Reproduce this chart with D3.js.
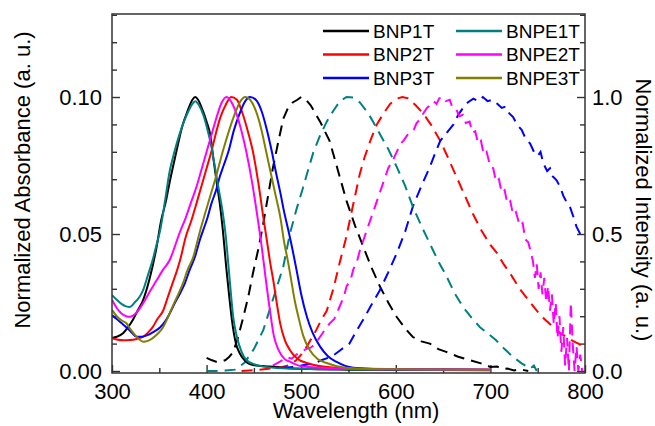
<!DOCTYPE html>
<html>
<head>
<meta charset="utf-8">
<script src="https://cdnjs.cloudflare.com/ajax/libs/d3/7.8.5/d3.min.js"></script>
<style>
  body { margin: 0; background: #fff; }
  svg text { font-family: "Liberation Sans", Arial, sans-serif; fill: #000; }
  .axis text { font-size: 22px; }
  .axis line { stroke: #333; stroke-width: 1.4; }
  .legend text { font-size: 19px; }
</style>
</head>
<body>
<svg id="chart" width="655" height="426"></svg>
<script>
// tick values and labels
var xTicks = [300, 400, 500, 600, 700, 800];
var xMinor = [350, 450, 550, 650, 750];
var absTicks = [0, 0.05, 0.10];
var absLabels = ["0.00", "0.05", "0.10"];
var absMinor = [0.01, 0.02, 0.03, 0.04, 0.06, 0.07, 0.08, 0.09, 0.11, 0.12, 0.13];
var emTicks = [0, 0.5, 1.0];
var emLabels = ["0.0", "0.5", "1.0"];
var emMinor = [0.1, 0.2, 0.3, 0.4, 0.6, 0.7, 0.8, 0.9, 1.1, 1.2, 1.3];

var names = ["BNP1T", "BNP2T", "BNP3T", "BNPE1T", "BNPE2T", "BNPE3T"];
var colors = ["#000000", "#ff0000", "#0000ff", "#008080", "#ff00ff", "#808000"];

// absorption (solid, left axis): [wavelength, absorbance]
var absBNP1T = [[300,0.012],[305,0.0125],[312,0.0139],[317,0.016],[322,0.0186],[327,0.022],[333,0.026],[340,0.034],[347,0.045],[352,0.055],[357,0.062],[361,0.069],[368,0.080],[374,0.089],[380,0.095],[385,0.099],[388,0.1],[391,0.099],[396,0.095],[400,0.091],[404,0.086],[407,0.078],[411,0.068],[414,0.061],[417,0.052],[421,0.037],[424,0.027],[427,0.018],[431,0.010],[435,0.0065],[440,0.004],[449,0.0022],[467,0.0016],[480,0.0012],[500,0.0008],[550,0.0005],[600,0.0004],[700,0.0003]];
var absBNP2T = [[300,0.012],[305,0.0115],[312,0.0112],[319,0.0113],[326,0.0117],[333,0.0125],[338,0.014],[343,0.016],[348,0.019],[354,0.022],[359,0.027],[364,0.032],[369,0.037],[372,0.0405],[378,0.049],[384,0.055],[390,0.062],[395,0.068],[400,0.074],[405,0.080],[410,0.087],[415,0.093],[420,0.097],[426,0.1],[432,0.099],[438,0.094],[444,0.087],[449,0.080],[455,0.068],[460,0.056],[464,0.047],[467,0.040],[471,0.032],[475,0.023],[478,0.017],[483,0.011],[488,0.0077],[496,0.0045],[506,0.0029],[523,0.0016],[550,0.001],[600,0.0007],[700,0.0005]];
var absBNP3T = [[300,0.0204],[305,0.019],[310,0.0175],[315,0.016],[321,0.014],[326,0.0125],[331,0.0125],[337,0.013],[344,0.0143],[351,0.016],[356,0.018],[361,0.021],[366,0.0245],[372,0.0284],[377,0.032],[382,0.0368],[388,0.042],[393,0.048],[397,0.052],[401,0.056],[405,0.061],[410,0.066],[414,0.071],[418,0.075],[423,0.080],[429,0.088],[435,0.094],[440,0.098],[446,0.1],[452,0.099],[458,0.095],[463,0.089],[469,0.080],[473,0.073],[478,0.065],[482,0.058],[486,0.052],[491,0.044],[495,0.037],[500,0.028],[506,0.0198],[512,0.014],[520,0.0089],[528,0.0055],[537,0.0034],[555,0.0012],[600,0.0006],[700,0.0005]];
var absBNPE1T = [[300,0.0277],[305,0.026],[310,0.0245],[315,0.0236],[319,0.0234],[324,0.025],[329,0.027],[333,0.0296],[338,0.035],[343,0.0405],[347,0.046],[351,0.0515],[356,0.062],[361,0.073],[366,0.080],[371,0.086],[376,0.091],[381,0.095],[385,0.0975],[388,0.0985],[392,0.097],[397,0.093],[401,0.088],[405,0.082],[409,0.074],[413,0.066],[417,0.058],[420,0.050],[425,0.031],[428,0.020],[432,0.0125],[437,0.007],[442,0.004],[450,0.0025],[460,0.0016],[480,0.001],[550,0.0006],[700,0.0004]];
var absBNPE2T = [[300,0.026],[305,0.023],[310,0.021],[315,0.0200],[319,0.0198],[325,0.021],[333,0.0248],[340,0.029],[347,0.033],[354,0.037],[361,0.0405],[366,0.045],[371,0.050],[378,0.056],[384,0.062],[390,0.068],[395,0.074],[400,0.080],[405,0.086],[410,0.092],[416,0.098],[421,0.1],[428,0.097],[435,0.090],[442,0.080],[448,0.069],[453,0.058],[458,0.046],[462,0.035],[467,0.022],[471,0.013],[476,0.0077],[482,0.0045],[488,0.0034],[502,0.0016],[550,0.0008],[600,0.0006],[700,0.0005]];
var absBNPE3T = [[300,0.0223],[305,0.020],[310,0.0185],[315,0.0175],[320,0.015],[326,0.0125],[333,0.0107],[338,0.011],[343,0.012],[348,0.0135],[354,0.016],[359,0.0195],[364,0.0235],[370,0.028],[375,0.032],[380,0.037],[386,0.0417],[390,0.047],[393,0.051],[398,0.057],[404,0.064],[410,0.071],[417,0.080],[424,0.088],[430,0.094],[435,0.098],[441,0.1],[446,0.099],[452,0.095],[458,0.088],[463,0.080],[468,0.072],[473,0.064],[478,0.056],[482,0.047],[486,0.040],[490,0.032],[493,0.026],[497,0.0198],[502,0.013],[509,0.0077],[517,0.0045],[527,0.0029],[547,0.0012],[600,0.0006],[700,0.0005]];

// emission (dashed, right axis): [wavelength, intensity]
var emBNP1T = [[400,0.048],[405,0.040],[410,0.034],[415,0.034],[420,0.040],[424,0.052],[428,0.068],[433,0.12],[438,0.186],[444,0.27],[449,0.357],[455,0.45],[460,0.54],[465,0.64],[470,0.74],[476,0.84],[481,0.92],[486,0.96],[491,0.98],[496,0.99],[500,1.0],[505,0.99],[510,0.97],[515,0.94],[520,0.91],[525,0.875],[530,0.84],[539,0.73],[548,0.62],[557,0.53],[566,0.45],[574,0.38],[583,0.31],[592,0.25],[601,0.197],[610,0.155],[618,0.124],[627,0.108],[636,0.10],[645,0.08],[654,0.069],[666,0.052],[679,0.039],[690,0.028],[700,0.015],[707,0.016],[712,0.008],[718,0.009],[725,0.002],[732,0.006],[740,0.0]];
var emBNP2T = [[437,0.0],[450,0.003],[465,0.008],[480,0.015],[488,0.022],[495,0.04],[500,0.06],[506,0.09],[511,0.12],[516,0.15],[521,0.185],[527,0.22],[534,0.30],[541,0.40],[547,0.48],[552,0.56],[557,0.64],[562,0.72],[567,0.78],[573,0.84],[580,0.90],[587,0.94],[594,0.975],[601,0.994],[607,1.0],[613,0.995],[621,0.97],[629,0.94],[638,0.895],[647,0.84],[655,0.78],[664,0.71],[673,0.64],[682,0.57],[691,0.51],[700,0.46],[707,0.43],[714,0.39],[722,0.35],[731,0.30],[740,0.26],[749,0.22],[757,0.19],[765,0.165],[774,0.138],[780,0.125],[787,0.11],[793,0.1],[800,0.085]];
var emBNP3T = [[480,0.012],[490,0.015],[500,0.02],[508,0.025],[515,0.03],[522,0.04],[530,0.05],[536,0.062],[541,0.075],[546,0.088],[551,0.10],[555,0.125],[559,0.15],[566,0.19],[574,0.24],[583,0.294],[592,0.36],[601,0.43],[610,0.51],[618,0.60],[627,0.675],[636,0.745],[641,0.79],[647,0.84],[654,0.87],[661,0.90],[666,0.935],[671,0.96],[676,0.98],[682,0.994],[687,0.985],[692,1.0],[697,0.985],[702,0.99],[707,0.976],[712,0.96],[716,0.965],[720,0.94],[724,0.927],[728,0.90],[733,0.88],[737,0.85],[742,0.83],[746,0.80],[750,0.785],[753,0.80],[756,0.757],[760,0.73],[763,0.74],[766,0.71],[770,0.696],[774,0.67],[777,0.64],[780,0.62],[784,0.60],[788,0.56],[791,0.527],[795,0.50],[800,0.49]];
var emBNPE1T = [[400,0.0],[410,0.0],[420,0.002],[430,0.005],[440,0.03],[450,0.08],[460,0.15],[470,0.26],[481,0.38],[488,0.50],[495,0.59],[502,0.67],[507,0.73],[513,0.80],[520,0.86],[527,0.91],[534,0.95],[541,0.985],[548,1.0],[555,0.998],[562,0.98],[570,0.945],[576,0.91],[583,0.866],[592,0.81],[601,0.745],[610,0.675],[618,0.60],[627,0.53],[636,0.465],[645,0.40],[654,0.343],[662,0.285],[671,0.234],[680,0.195],[689,0.16],[698,0.135],[706,0.112],[715,0.08],[724,0.051],[733,0.028],[742,0.0085],[746,0.02],[749,0.0]];
var emBNPE2T = [[470,0.02],[478,0.035],[485,0.05],[490,0.045],[495,0.06],[500,0.07],[505,0.08],[510,0.085],[515,0.10],[520,0.125],[525,0.15],[530,0.173],[535,0.19],[540,0.23],[545,0.27],[548,0.31],[552,0.33],[555,0.37],[559,0.40],[562,0.44],[566,0.48],[570,0.52],[575,0.57],[579,0.61],[583,0.65],[588,0.70],[592,0.74],[597,0.77],[601,0.80],[605,0.83],[608,0.84],[612,0.86],[615,0.87],[619,0.88],[622,0.905],[626,0.92],[629,0.94],[633,0.96],[636,0.97],[640,0.985],[643,0.975],[646,0.995],[650,1.0],[653,0.985],[657,0.99],[660,0.96],[664,0.955],[667,0.93],[671,0.935],[674,0.905],[678,0.91],[681,0.87],[684,0.875],[687,0.83],[690,0.84],[693,0.79],[696,0.80],[700,0.745],[703,0.74],[706,0.69],[709,0.70],[712,0.65],[715,0.66],[718,0.61],[721,0.62],[724,0.57],[727,0.58],[731,0.53],[734,0.54],[737,0.48],[740,0.47],[743,0.43],[745,0.40],[747,0.34],[749,0.39],[751,0.30],[753,0.36],[755,0.28],[757,0.34],[759,0.25],[761,0.31],[763,0.22],[765,0.28],[767,0.17],[769,0.25],[771,0.12],[773,0.20],[775,0.07],[777,0.16],[779,0.02],[781,0.12],[783,0.0],[785,0.25],[787,0.10],[789,0.0],[791,0.09],[793,0.0],[795,0.06],[797,0.0]];

var absSeries = [absBNP1T, absBNP2T, absBNP3T, absBNPE1T, absBNPE2T, absBNPE3T];
var emSeries = [emBNP1T, emBNP2T, emBNP3T, emBNPE1T, emBNPE2T];

var svg = d3.select("#chart");
var pL = 112, pR = 585, pT = 14, pB = 373;

var x = d3.scaleLinear().domain([300, 800]).range([pL, pR]);
var yAbs = d3.scaleLinear().domain([-0.00073, 0.1303]).range([pB, pT]);
var yEm = d3.scaleLinear().domain([-0.0073, 1.303]).range([pB, pT]);

svg.append("clipPath").attr("id", "plotclip")
  .append("rect").attr("x", pL).attr("y", pT).attr("width", pR - pL).attr("height", pB - pT);

// minor ticks (inward)
svg.append("g").attr("class", "axis").attr("transform", "translate(0," + pB + ")")
  .call(d3.axisBottom(x).tickValues(xMinor).tickSize(-5).tickFormat(""))
  .call(g => g.select(".domain").remove());
svg.append("g").attr("class", "axis").attr("transform", "translate(" + pL + ",0)")
  .call(d3.axisLeft(yAbs).tickValues(absMinor).tickSize(-5).tickFormat(""))
  .call(g => g.select(".domain").remove());
svg.append("g").attr("class", "axis").attr("transform", "translate(" + pR + ",0)")
  .call(d3.axisRight(yEm).tickValues(emMinor).tickSize(-5).tickFormat(""))
  .call(g => g.select(".domain").remove());

// major ticks
svg.append("g").attr("class", "axis").attr("transform", "translate(0," + pB + ")")
  .call(d3.axisBottom(x).tickValues(xTicks).tickSize(-8).tickPadding(10).tickFormat(d3.format("d")))
  .call(g => g.select(".domain").remove());
svg.append("g").attr("class", "axis").attr("transform", "translate(" + pL + ",0)")
  .call(d3.axisLeft(yAbs).tickValues(absTicks).tickSize(-8).tickPadding(10).tickFormat((d, i) => absLabels[i]))
  .call(g => g.select(".domain").remove());
svg.append("g").attr("class", "axis").attr("transform", "translate(" + pR + ",0)")
  .call(d3.axisRight(yEm).tickValues(emTicks).tickSize(-8).tickPadding(7).tickFormat((d, i) => emLabels[i]))
  .call(g => g.select(".domain").remove());

// curves
var plot = svg.append("g").attr("clip-path", "url(#plotclip)");
var absLine = d3.line().x(d => x(d[0])).y(d => yAbs(d[1])).curve(d3.curveMonotoneX);
var emLine = d3.line().x(d => x(d[0])).y(d => yEm(d[1])).curve(d3.curveLinear);

emSeries.forEach(function (s, i) {
  plot.append("path").datum(s).attr("d", emLine)
    .attr("fill", "none").attr("stroke", colors[i]).attr("stroke-width", 2)
    .attr("stroke-dasharray", "11,7");
});
absSeries.forEach(function (s, i) {
  plot.append("path").datum(s).attr("d", absLine)
    .attr("fill", "none").attr("stroke", colors[i]).attr("stroke-width", 2);
});

// frame
svg.append("rect").attr("x", pL).attr("y", pT).attr("width", pR - pL).attr("height", pB - pT)
  .attr("fill", "none").attr("stroke", "#333").attr("stroke-width", 1.5);

// axis titles
svg.append("text").attr("x", 356).attr("y", 418).attr("text-anchor", "middle")
  .style("font-size", "22px").text("Wavelength (nm)");
svg.append("text").attr("transform", "translate(30,180) rotate(-90)").attr("text-anchor", "middle")
  .style("font-size", "22px").text("Normalized Absorbance (a. u.)");
svg.append("text").attr("transform", "translate(636,210) rotate(90)").attr("text-anchor", "middle")
  .style("font-size", "22px").text("Normalized Intensity (a. u.)");

// legend
var legend = svg.append("g").attr("class", "legend");
names.forEach(function (n, i) {
  var col = Math.floor(i / 3), row = i % 3;
  var lx = 323 + col * 133, ly = 31 + row * 23.5;
  legend.append("line").attr("x1", lx).attr("x2", lx + 46).attr("y1", ly).attr("y2", ly)
    .attr("stroke", colors[i]).attr("stroke-width", 2.5);
  legend.append("text").attr("x", lx + 50).attr("y", ly + 6.5).text(n);
});
</script>
</body>
</html>
